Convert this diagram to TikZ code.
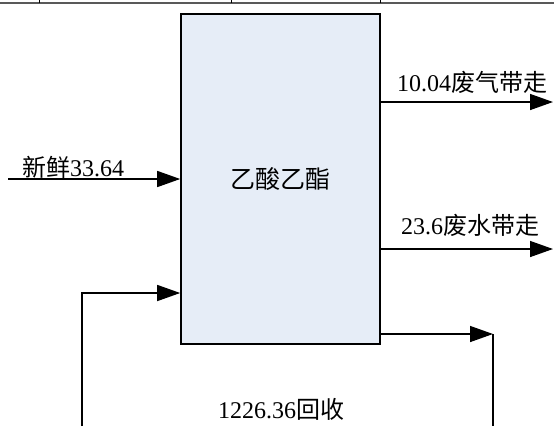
\documentclass[tikz,border=0pt]{standalone}
\usepackage{fontspec}
\setmainfont{Liberation Serif}
\newfontfamily\cjk{Noto Sans CJK SC}
\usetikzlibrary{arrows.meta}
\newcommand{\zh}[1]{{\cjk #1}}
\definecolor{boxfill}{HTML}{E6EDF7}
\tikzset{
  flow/.style={line width=1.4pt,-{Triangle[length=23pt,width=16pt]}},
  pipe/.style={line width=1.4pt},
  lbl/.style={anchor=west,inner sep=0pt,font=\fontsize{24}{28}\selectfont}
}
\begin{document}
\begin{tikzpicture}[x=1pt,y=-1pt]
\useasboundingbox (0,0) rectangle (554,426);
\draw[line width=2pt,black!65] (0,2.8) -- (554,2.8);
\foreach \tx in {39,231,380} \draw[line width=1pt] (\tx,0) -- (\tx,2.8);

\node[draw,line width=1.6pt,fill=boxfill,minimum width=199pt,minimum height=330pt,
      font=\fontsize{25}{29}\selectfont] (ea) at (280.5,179) {\zh{乙酸乙酯}};

\coordinate (fresh) at (8,179);
\coordinate (loopbot) at (82,426);
\coordinate (loopin) at (82,293);
\coordinate (gas) at (553,102);
\coordinate (water) at (553,249);
\coordinate (rec) at (493,334);
\coordinate (recbot) at (493,426);

\draw[flow] (fresh) -- (fresh -| ea.west);
\draw[flow] (loopbot) -- (loopin) -- (loopin -| ea.west);
\draw[flow] (gas -| ea.east) -- (gas);
\draw[flow] (water -| ea.east) -- (water);
\draw[flow] (rec -| ea.east) -- (rec);
\draw[pipe] (rec) -- (recbot);

\node[lbl] (freshlbl) at (22,167) {\zh{新鲜}33.64};
\node[lbl] (gaslbl) at (397,82) {10.04\zh{废气带走}};
\node[lbl] (waterlbl) at (401,225) {23.6\zh{废水带走}};
\node[lbl] (reclbl) at (218,409) {1226.36\zh{回收}};
\end{tikzpicture}
\end{document}
